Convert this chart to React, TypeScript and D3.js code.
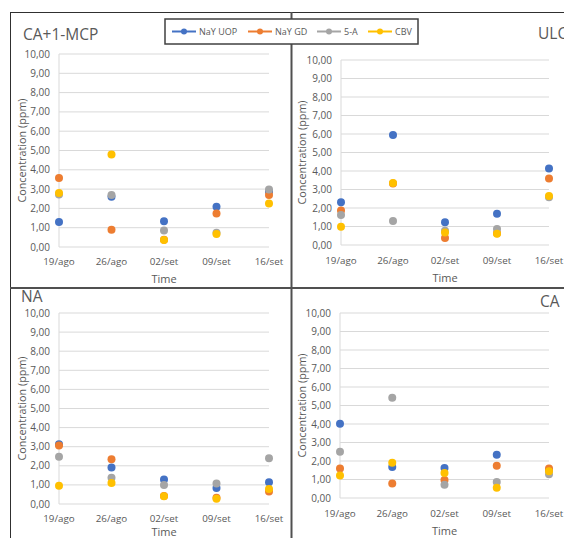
import React from "react";
import * as d3 from "d3";

const categories = ["19/ago", "26/ago", "02/set", "09/set", "16/set"];
const seriesNames = ["NaY UOP", "NaY GD", "5-A", "CBV"];
const seriesColors = ["#4472C4", "#ED7D31", "#A5A5A5", "#FFC000"];
const yTicks = [0, 1, 2, 3, 4, 5, 6, 7, 8, 9, 10];

const panelTitles = ["CA+1-MCP", "ULC", "NA", "CA"];

// values per panel: [NaY UOP, NaY GD, 5-A, CBV], each over categories
const caMcp = [
  [1.30, 2.61, 1.33, 2.09, 2.88],
  [3.58, 0.90, 0.38, 1.73, 2.70],
  [2.72, 2.70, 0.86, 0.74, 2.98],
  [2.80, 4.79, 0.36, 0.67, 2.25],
];
const ulc = [
  [2.31, 5.95, 1.23, 1.69, 4.13],
  [1.86, 3.32, 0.38, 0.64, 3.60],
  [1.62, 1.30, 0.77, 0.86, 2.58],
  [0.99, 3.35, 0.68, 0.61, 2.65],
];
const na = [
  [3.13, 1.91, 1.28, 0.84, 1.14],
  [3.06, 2.34, 0.42, 0.33, 0.66],
  [2.47, 1.38, 1.00, 1.07, 2.40],
  [0.96, 1.10, 0.40, 0.28, 0.79],
];
const ca = [
  [4.02, 1.68, 1.62, 2.34, 1.50],
  [1.59, 0.79, 0.97, 1.75, 1.60],
  [2.50, 5.42, 0.72, 0.86, 1.28],
  [1.21, 1.91, 1.35, 0.56, 1.44],
];
const panelData = [caMcp, ulc, na, ca];

const FONT = "'Open Sans', 'DejaVu Sans', sans-serif";

type Layout = {
  x0: number; x1: number; yTop: number; yBot: number;
  titleX: number; titleY: number;
  labelY: number; timeY: number; axisTitleX: number;
};

const layouts: Layout[] = [
  { x0: 59, x1: 269, yTop: 54, yBot: 247, titleX: 23, titleY: 40, labelY: 265, timeY: 283, axisTitleX: 22 },
  { x0: 341, x1: 549, yTop: 60, yBot: 245, titleX: 538, titleY: 39, labelY: 264, timeY: 282, axisTitleX: 302 },
  { x0: 59, x1: 269, yTop: 313, yBot: 504, titleX: 21, titleY: 302, labelY: 522, timeY: 536, axisTitleX: 22 },
  { x0: 340, x1: 549, yTop: 313, yBot: 498, titleX: 540, titleY: 307, labelY: 517, timeY: 535, axisTitleX: 302 },
];

function Panel({ idx }: { idx: number }) {
  const L = layouts[idx];
  const data = panelData[idx];
  const x = d3.scalePoint<string>().domain(categories).range([L.x0, L.x1]);
  const y = d3.scaleLinear().domain([0, 10]).range([L.yBot, L.yTop]);
  const fmt = (v: number) => d3.format(".2f")(v).replace(".", ",");
  return (
    <g>
      <text x={L.titleX} y={L.titleY} fontSize={15.5} fill="#595959" fontFamily={FONT}>
        {panelTitles[idx]}
      </text>
      {yTicks.map((t) => (
        <g key={t}>
          <line x1={L.x0} x2={L.x1} y1={y(t)} y2={y(t)} stroke="#D9D9D9" strokeWidth={1} />
          <text x={L.x0 - 9} y={y(t)} dy="0.35em" textAnchor="end" fontSize={10} fill="#595959" fontFamily={FONT}>
            {fmt(t)}
          </text>
        </g>
      ))}
      <line x1={L.x0} x2={L.x0} y1={L.yTop} y2={L.yBot} stroke="#D9D9D9" strokeWidth={1} />
      {categories.map((c) => (
        <text key={c} x={x(c)} y={L.labelY} textAnchor="middle" fontSize={9.8} fill="#595959" fontFamily={FONT}>
          {c}
        </text>
      ))}
      <text x={(L.x0 + L.x1) / 2} y={L.timeY} textAnchor="middle" fontSize={11} fill="#595959" fontFamily={FONT}>
        Time
      </text>
      <text
        transform={`translate(${L.axisTitleX},${(L.yTop + L.yBot) / 2}) rotate(-90)`}
        textAnchor="middle"
        dy="0.35em"
        fontSize={10.8}
        fill="#595959"
        fontFamily={FONT}
      >
        Concentration (ppm)
      </text>
      {data.map((vals, si) =>
        vals.map((v, ci) => (
          <circle key={`${si}-${ci}`} cx={x(categories[ci])} cy={y(v)} r={4} fill={seriesColors[si]} />
        ))
      )}
    </g>
  );
}

function Legend() {
  const x0 = 165, y0 = 19, w = 253, h = 25;
  const itemX = [172, 248, 317, 368];
  const cy = y0 + h / 2;
  return (
    <g>
      <rect x={x0} y={y0} width={w} height={h} fill="#fff" stroke="#404040" strokeWidth={1.5} />
      {seriesNames.map((s, i) => (
        <g key={s}>
          <line x1={itemX[i]} x2={itemX[i] + 24} y1={cy} y2={cy} stroke={seriesColors[i]} strokeWidth={2} />
          <circle cx={itemX[i] + 12} cy={cy} r={3} fill={seriesColors[i]} />
          <text x={itemX[i] + 27} y={cy} dy="0.35em" fontSize={9} fill="#595959" fontFamily={FONT}>
            {s}
          </text>
        </g>
      ))}
    </g>
  );
}

export default function App() {
  return (
    <svg
      width={564}
      height={538}
      style={{ position: "absolute", left: 0, top: 0, background: "#fff" }}
    >
      <rect x={0} y={0} width={564} height={538} fill="#fff" />
      {[0, 1, 2, 3].map((i) => (
        <Panel key={i} idx={i} />
      ))}
      <line x1={10.5} x2={10.5} y1={12} y2={538} stroke="#303030" strokeWidth={1} />
      <line x1={10} x2={564} y1={12.5} y2={12.5} stroke="#303030" strokeWidth={1} />
      <line x1={291.5} x2={291.5} y1={12} y2={538} stroke="#505050" strokeWidth={2} />
      <line x1={10} x2={564} y1={288} y2={288} stroke="#505050" strokeWidth={2} />
      <Legend />
    </svg>
  );
}
